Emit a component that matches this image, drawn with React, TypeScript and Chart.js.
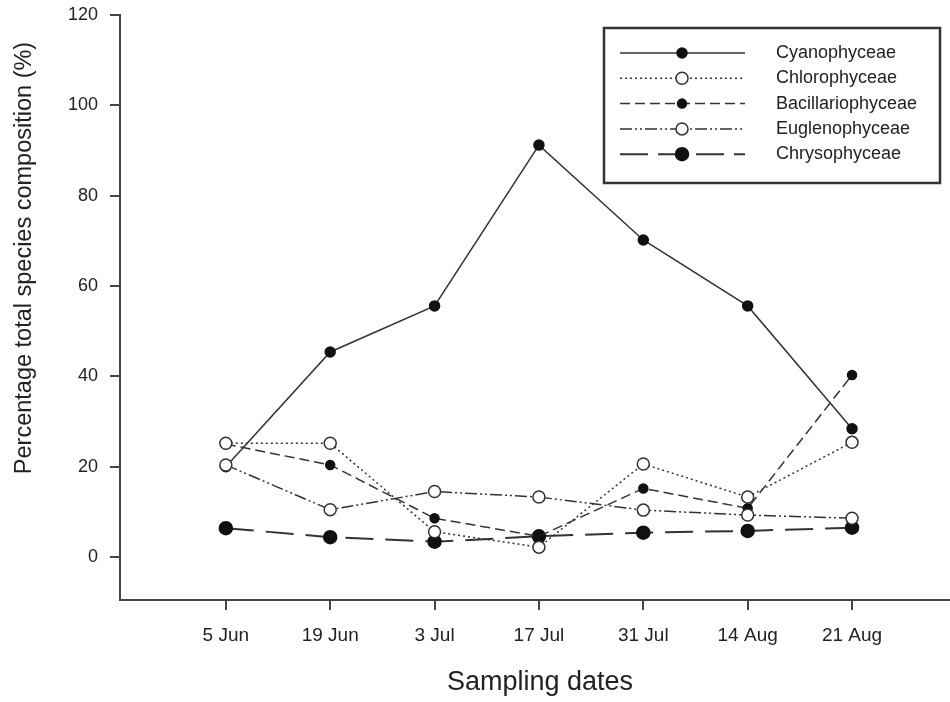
import React, { useEffect, useRef } from "react";
import { Chart, registerables } from "chart.js";

Chart.register(...registerables);

const dates = ["5 Jun", "19 Jun", "3 Jul", "17 Jul", "31 Jul", "14 Aug", "21 Aug"];
const cyanophyceae = [20, 45.4, 55.6, 91.2, 70.2, 55.6, 28.4];
const chlorophyceae = [25.2, 25.2, 5.6, 2.2, 20.6, 13.3, 25.4];
const bacillariophyceae = [25, 20.4, 8.6, 4.6, 15.2, 10.8, 40.3];
const euglenophyceae = [20.4, 10.5, 14.5, 13.3, 10.4, 9.3, 8.6];
const chrysophyceae = [6.4, 4.4, 3.4, 4.6, 5.4, 5.8, 6.5];
const yTicks = [0, 20, 40, 60, 80, 100, 120];

const FONT = "'Liberation Sans', Arial, sans-serif";
const TEXT = "#222";

const toPts = (arr: number[]) => arr.map((v, i) => ({ x: i, y: v }));

const legendPlugin = {
  id: "customLegend",
  afterDraw(chart: any) {
    const ctx = chart.ctx as CanvasRenderingContext2D;
    const area = chart.chartArea;
    ctx.save();
    // extend x axis line to the canvas edge
    ctx.strokeStyle = "#444";
    ctx.lineWidth = 2;
    ctx.setLineDash([]);
    ctx.beginPath();
    ctx.moveTo(area.right - 1, area.bottom);
    ctx.lineTo(chart.width, area.bottom);
    ctx.stroke();
    // legend box
    ctx.strokeStyle = "#333";
    ctx.lineWidth = 2.5;
    ctx.strokeRect(604, 28, 336, 155);
    chart.data.datasets.forEach((ds: any, i: number) => {
      const y = 53 + i * 25.3;
      ctx.strokeStyle = ds.borderColor;
      ctx.lineWidth = ds.borderWidth;
      ctx.setLineDash(ds.legendDash || ds.borderDash || []);
      ctx.beginPath();
      ctx.moveTo(620, y);
      ctx.lineTo(745, y);
      ctx.stroke();
      ctx.setLineDash([]);
      ctx.beginPath();
      ctx.arc(682, y, ds.pointRadius, 0, Math.PI * 2);
      ctx.fillStyle = ds.pointBackgroundColor;
      ctx.fill();
      ctx.lineWidth = ds.pointBorderWidth;
      ctx.strokeStyle = ds.pointBorderColor;
      ctx.stroke();
      ctx.fillStyle = TEXT;
      ctx.font = `18px ${FONT}`;
      ctx.textAlign = "left";
      ctx.textBaseline = "middle";
      ctx.fillText(ds.label, 776, y);
    });
    ctx.fillStyle = TEXT;
    ctx.font = `27px ${FONT}`;
    ctx.textAlign = "center";
    ctx.textBaseline = "middle";
    ctx.fillText("Sampling dates", 540, 683);
    ctx.save();
    ctx.translate(25, 258);
    ctx.rotate(-Math.PI / 2);
    ctx.font = `23.5px ${FONT}`;
    ctx.fillText("Percentage total species composition (%)", 0, 0);
    ctx.restore();
    ctx.restore();
  },
};

export default function App() {
  const ref = useRef<HTMLCanvasElement | null>(null);
  useEffect(() => {
    document.body.style.margin = "0";
    const canvas = ref.current!;
    const mk = (
      label: string,
      data: number[],
      dash: number[],
      open: boolean,
      r: number,
      order: number,
      width = 1.5,
      legendDash?: number[]
    ) => ({
      label,
      data: toPts(data),
      borderColor: "#333",
      borderWidth: width,
      borderDash: dash,
      legendDash,
      pointRadius: r,
      pointBackgroundColor: open ? "#fff" : "#111",
      pointBorderColor: open ? "#333" : "#111",
      pointBorderWidth: 1.5,
      pointHoverRadius: r,
      tension: 0,
      order,
    });
    const chart = new Chart(canvas, {
      type: "line",
      data: {
        datasets: [
          mk("Cyanophyceae", cyanophyceae, [], false, 5, 2),
          mk("Chlorophyceae", chlorophyceae, [2, 3], true, 6, 0),
          mk("Bacillariophyceae", bacillariophyceae, [10, 5], false, 4.5, 1),
          mk("Euglenophyceae", euglenophyceae, [12, 3, 2, 3, 2, 3], true, 6, 0),
          mk("Chrysophyceae", chrysophyceae, [28, 12], false, 6.5, 1, 2, [28, 10]),
        ] as any,
      },
      options: {
        animation: false,
        responsive: false,
        events: [],
        layout: { padding: { top: 15, right: 0, left: 0, bottom: 0 } },
        plugins: { legend: { display: false }, tooltip: { enabled: false } },
        scales: {
          x: {
            type: "linear",
            min: -1.014,
            max: 6.862,
            afterBuildTicks: (s: any) => {
              s.ticks = dates.map((_, i) => ({ value: i }));
            },
            afterFit: (s: any) => {
              s.height = 102;
              s.paddingLeft = 0;
              s.paddingRight = 0;
            },
            ticks: {
              callback: (v: any) => dates[Math.round(Number(v))] ?? "",
              font: { family: FONT, size: 19 },
              color: TEXT,
              padding: 14,
              maxRotation: 0,
              autoSkip: false,
            },
            grid: { drawOnChartArea: false, drawTicks: true, tickLength: 10, color: "#444", lineWidth: 2 },
            border: { display: true, color: "#444", width: 2 },
          },
          y: {
            type: "linear",
            min: -9.5,
            max: 120,
            afterBuildTicks: (s: any) => {
              s.ticks = yTicks.map((v) => ({ value: v }));
            },
            afterFit: (s: any) => {
              s.width = 120;
              s.paddingTop = 0;
              s.paddingBottom = 0;
            },
            ticks: {
              font: { family: FONT, size: 18 },
              color: TEXT,
              padding: 12,
            },
            grid: { drawOnChartArea: false, drawTicks: true, tickLength: 10, color: "#444", lineWidth: 2 },
            border: { display: true, color: "#444", width: 2 },
          },
        },
      },
      plugins: [legendPlugin],
    } as any);
    return () => chart.destroy();
  }, []);
  return (
    <div style={{ width: 950, height: 702, background: "#fff" }}>
      <canvas ref={ref} width={950} height={702} style={{ display: "block" }} />
    </div>
  );
}
